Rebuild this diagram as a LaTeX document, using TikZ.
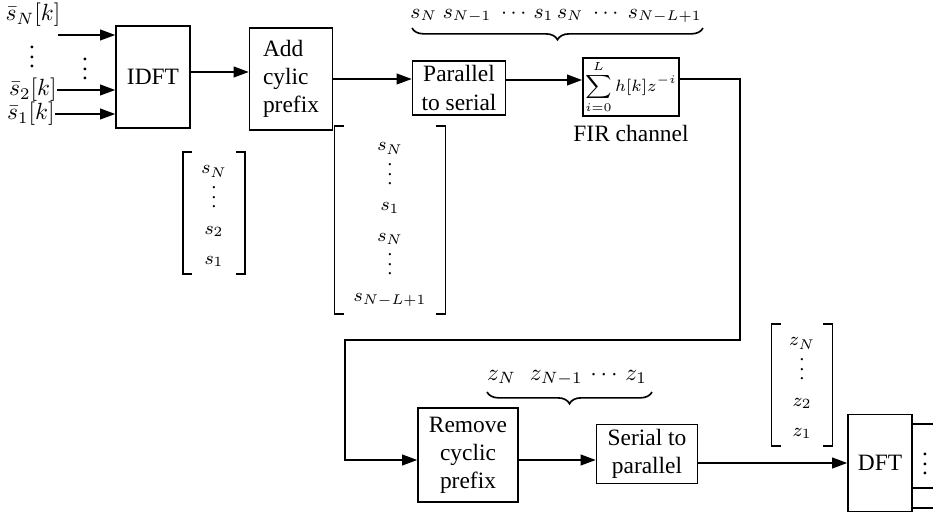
\documentclass[tikz,border=0pt]{standalone}
\usepackage{amsmath}
\usepackage{fontspec}
\setmainfont{Liberation Serif}
\usetikzlibrary{arrows.meta,decorations.pathreplacing,positioning}
\renewcommand{\arraystretch}{1.35}
\newcommand{\vdts}{\smash{\lower1.5pt\hbox{$\vdots$}}}

\begin{document}
\begin{tikzpicture}[x=0.015cm,y=-0.015cm,
  blk/.style={draw,line width=0.7pt,align=center,inner sep=2pt},
  arr/.style={line width=0.6pt,-{Triangle[length=6.4pt,width=4.6pt]}},
  wire/.style={line width=0.6pt},
  brk/.style={line width=0.8pt},
  vec/.style={font=\footnotesize,inner sep=0pt},
  dts/.style={inner sep=0pt},
  brc/.style={line width=0.7pt,decorate,decoration={brace,mirror,amplitude=5pt}}]
\useasboundingbox (0,0) rectangle (933,516);

% blocks
\node[blk,minimum width=1.11cm,minimum height=1.53cm] (idft) at (153,77) {IDFT};
\node[blk,align=left,minimum width=1.245cm,minimum height=1.53cm] (add) at (291,79) {Add\\cylic\\prefix};
\node[blk,minimum width=1.395cm,minimum height=0.795cm] (p2s) at (459,88) {Parallel\\to serial};
\node[blk,font=\scriptsize,inner sep=1pt,minimum width=1.395cm,minimum height=0.765cm] (fir) at (631,87) {$\displaystyle\sum_{i=0}^{L} h[k]z^{-i}$};
\node[below=0pt of fir] (firlbl) {FIR channel};
\node[blk,minimum width=1.5cm,minimum height=1.41cm] (rm) at (468,455) {Remove\\cyclic\\prefix};
\node[blk,minimum width=1.515cm,minimum height=0.825cm] (s2p) at (647,454) {Serial to\\parallel};
\node[blk,minimum width=0.96cm,minimum height=1.455cm] (dft) at (880,463) {DFT};

% inputs
\node (inN) at (33,15) {$\bar{s}_N[k]$};
\node[anchor=east,inner sep=0pt] (in2) at (57,90) {$\bar{s}_2[k]$};
\node[anchor=east,inner sep=0pt] (in1) at (55,114) {$\bar{s}_1[k]$};
\node[dts] (dotsL) at (32,64) {\vdts};
\node[dts] (dotsR) at (85,76) {\vdts};
\coordinate (inNstart) at (58,35);
\draw[arr] (inNstart) -- (idft.west |- inNstart);
\draw[arr] (in2.east) -- (idft.west |- in2.east);
\draw[arr] (in1.east) -- (idft.west |- in1.east);

% chain
\draw[arr] (idft.east |- 0,72) -- (add.west |- 0,72);
\draw[arr] (add.east |- 0,79) -- (p2s.west |- 0,79);
\draw[arr] (p2s.east |- 0,80) -- (fir.west |- 0,80);
\coordinate (turnA) at (740,340);
\coordinate (turnB) at (345,460);
\draw[arr] (fir.east |- 0,79) -| (turnA) -| (turnB) -- (rm.west |- turnB);
\draw[arr] (rm.east |- 0,460) -- (s2p.west |- 0,460);
\draw[arr] (s2p.east |- 0,463) -- (dft.west |- 0,463);

% outputs
\draw[wire] (dft.east |- 0,424) -- ++(22,0);
\draw[wire] (dft.east |- 0,488) -- ++(22,0);
\draw[wire] (dft.east |- 0,508) -- ++(22,0);
\node[dts] (dotsO) at (925,471) {\vdts};

% braces
\draw[brc] (412,28) -- (703,28);
\node[font=\small,inner sep=1pt] (topseq) at (556,16) {$s_N\;s_{N-1}\;\cdots\,s_1\,s_N\;\cdots\;s_{N-L+1}$};
\draw[brc] (487,392) -- (652,392);
\node[inner sep=1pt] (botseq) at (567,378) {$z_N\hspace{6pt}z_{N-1}\,\cdots\,z_1$};

% vectors
\node[vec,minimum width=0.915cm,minimum height=1.8cm] (v1) at (214,213)
  {$\begin{array}{c} s_N\\ \vdts\\ s_2\\ s_1 \end{array}$};
\node[vec,minimum width=1.65cm,minimum height=2.805cm] (v2) at (390,220)
  {$\begin{array}{c} s_N\\ \vdts\\ s_1\\ s_N\\ \vdts\\ s_{N-L+1} \end{array}$};
\node[vec,minimum width=0.9cm,minimum height=1.815cm] (v3) at (802,385)
  {$\begin{array}{c} z_N\\ \vdts\\ z_2\\ z_1 \end{array}$};
\foreach \v in {v1,v2,v3} {
  \draw[brk] ([xshift=4pt]\v.north west) -- (\v.north west) -- (\v.south west) -- ([xshift=4pt]\v.south west);
  \draw[brk] ([xshift=-4pt]\v.north east) -- (\v.north east) -- (\v.south east) -- ([xshift=-4pt]\v.south east);
}
\end{tikzpicture}
\end{document}
